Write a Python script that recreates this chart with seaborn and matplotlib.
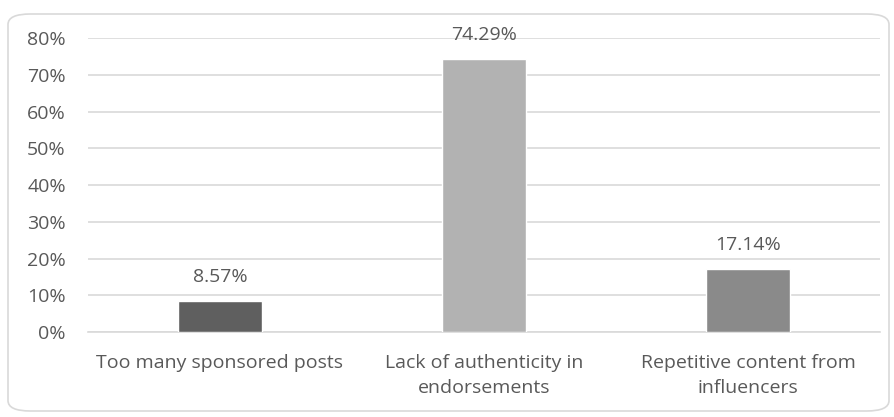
import matplotlib
matplotlib.use("Agg")
import matplotlib.pyplot as plt
from matplotlib.patches import FancyBboxPatch
import pandas as pd
import seaborn as sns

categories = ["Too many sponsored posts",
              "Lack of authenticity in\nendorsements",
              "Repetitive content from\ninfluencers"]
shares = [0.0857, 0.7429, 0.1714]
bar_colors = ["#5f5f5f", "#b2b2b2", "#8a8a8a"]
yticks = [0, 0.1, 0.2, 0.3, 0.4, 0.5, 0.6, 0.7, 0.8]

df = pd.DataFrame({"category": categories, "share": shares})

sns.set_theme(style="white")
plt.rcParams["font.family"] = ["Open Sans", "DejaVu Sans"]
text_color = "#595959"
grid_color = "#d9d9d9"
fs = 14

fig = plt.figure(figsize=(8.94, 4.17), dpi=100)
ax = fig.add_axes([88 / 894, 1 - 332 / 417, 792 / 894, 294 / 417])

# rounded chart border
border = FancyBboxPatch((8 / 894, 6 / 417), 881 / 894, 397 / 417,
                        boxstyle="round,pad=0,rounding_size=0.025",
                        transform=fig.transFigure, facecolor="none",
                        edgecolor=grid_color, linewidth=1.2, zorder=0)
fig.patches.append(border)

sns.barplot(data=df, x="category", y="share", hue="category",
            palette=bar_colors, width=0.315, legend=False, ax=ax,
            saturation=1, zorder=3)

ax.set_ylim(0, 0.8)
ax.set_xlim(-0.5, 2.5)
ax.set_yticks(yticks)
ax.set_yticklabels([f"{int(round(t * 100))}%" for t in yticks])
ax.yaxis.grid(True, color=grid_color, linewidth=1.2, zorder=0)
ax.xaxis.grid(False)
for s in ["top", "right", "left"]:
    ax.spines[s].set_visible(False)
ax.spines["bottom"].set_color(grid_color)
ax.spines["bottom"].set_linewidth(1.2)
ax.tick_params(axis="y", length=0, pad=16, labelsize=fs, labelcolor=text_color)
ax.tick_params(axis="x", length=0, pad=16, labelsize=fs, labelcolor=text_color)
for lbl in ax.get_xticklabels():
    lbl.set_linespacing(1.5)
ax.set_xlabel("")
ax.set_ylabel("")

for i, v in enumerate(shares):
    ax.annotate(f"{v * 100:.2f}%", (i, v), xytext=(0, 13.5),
                textcoords="offset points", ha="center", va="baseline",
                fontsize=fs, color=text_color)

fig.savefig("out.png", dpi=100)
